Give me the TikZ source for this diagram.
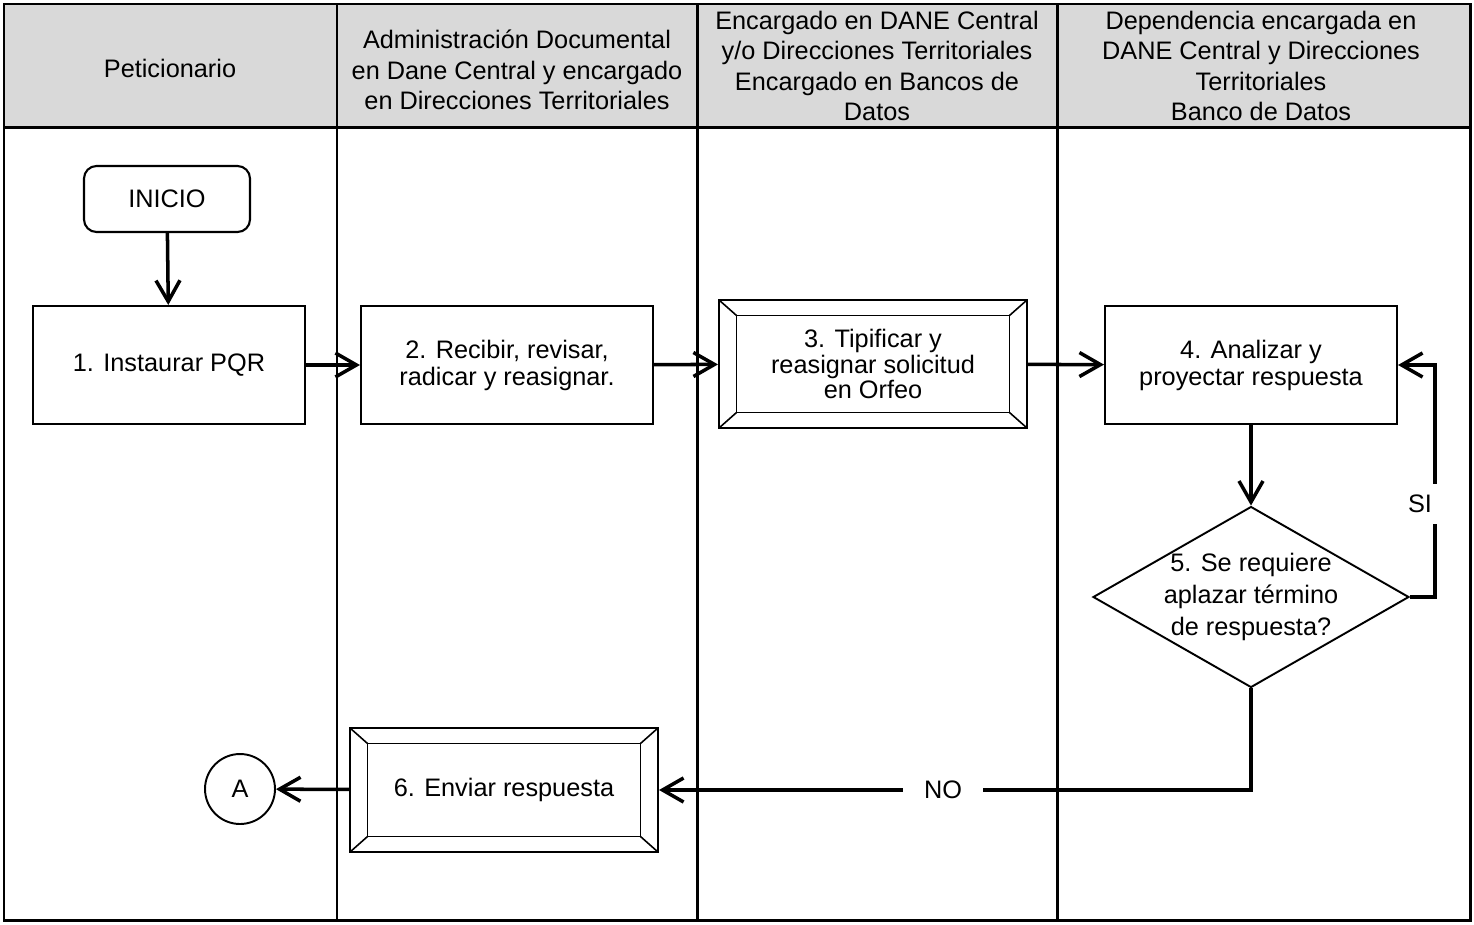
\documentclass[tikz,border=0pt]{standalone}
\usepackage{fontspec}
\setmainfont{Liberation Sans}
\usetikzlibrary{arrows.meta,positioning,shapes.geometric}
\definecolor{headgray}{RGB}{217,217,217}

\begin{document}
\begin{tikzpicture}[
  x=0.02cm,y=-0.02cm,
  lane/.style={line width=1.7pt},
  head/.style={align=center, font=\fontsize{14.4}{17.2}\selectfont},
  box/.style={draw, line width=1.2pt, align=center, minimum width=5.84cm, minimum height=2.36cm, font=\fontsize{14.4}{15.4}\selectfont},
  start/.style={box, rounded corners=0.25cm, minimum width=3.32cm, minimum height=1.32cm},
  bevel/.style={box, minimum width=6.16cm, minimum height=2.48cm,
    path picture={
      \draw[line width=0.9pt] ([shift={(0.35cm,-0.31cm)}]path picture bounding box.north west) rectangle ([shift={(-0.35cm,0.31cm)}]path picture bounding box.south east);
      \foreach \c/\sx/\sy in {north west/1/-1,north east/-1/-1,south west/1/1,south east/-1/1}
        \draw[line width=0.9pt] (path picture bounding box.\c) -- ++(\sx*0.35cm,\sy*0.31cm);
    }},
  decision/.style={draw, diamond, line width=1.1pt, aspect=1.75, inner sep=-20pt, minimum width=6.32cm, minimum height=3.62cm, align=center, font=\fontsize{14.4}{18}\selectfont},
  conn/.style={draw, circle, line width=1.1pt, minimum size=1.4cm, inner sep=0pt, font=\fontsize{14.4}{17}\selectfont},
  lab/.style={fill=white, font=\fontsize{14.4}{17}\selectfont, inner sep=2pt},
  arr/.style={-{Straight Barb[length=4.2mm, width=4.8mm]}, line width=2pt}
]
\useasboundingbox (0,0) rectangle (1474,924);

% lanes
\fill[headgray] (4,4) rectangle (1470,127);
\draw[lane] (4,4) rectangle (1470,920);
\draw[lane] (4,127) -- (1470,127);
\foreach \lx in {337,697,1057}
  \draw[lane] (\lx,4) -- (\lx,920);

\node[head] (h1) at (170,68) {Peticionario};
\node[head] (h2) at (517,70) {Administración Documental\\en Dane Central y encargado\\en Direcciones Territoriales};
\node[head] (h3) at (877,66) {Encargado en DANE Central\\y/o Direcciones Territoriales\\Encargado en Bancos de\\Datos};
\node[head] (h4) at (1261,66) {Dependencia encargada en\\DANE Central y Direcciones\\Territoriales\\Banco de Datos};

% steps
\node[start] (inicio) at (167,199) {INICIO};
\node[box, minimum width=5.44cm] (b1) at (169,365) {1. Instaurar PQR};
\node[box] (b2) at (507,365) {2. Recibir, revisar,\\radicar y reasignar.};
\node[bevel, minimum height=2.56cm, font=\fontsize{14.4}{14.6}\selectfont] (b3) at (873,364) {3. Tipificar y\\reasignar solicitud\\en Orfeo};
\node[box] (b4) at (1251,365) {4. Analizar y\\proyectar respuesta};
\node[decision] (d5) at (1251,597) {5. Se requiere\\aplazar término\\de respuesta?};
\node[bevel] (b6) at (504,790) {6. Enviar respuesta};
\node[conn] (a) at (240,789) {A};
\coordinate (loop) at (1435,365);

\draw[arr] (inicio) -- (b1);
\draw[arr] (b1) -- (b2);
\draw[arr] (b2) -- (b3);
\draw[arr] (b3) -- (b4);
\draw[arr] (b4) -- (d5);
\draw[arr] (d5.east) -| node[lab, pos=0.7, xshift=-0.3cm, minimum width=0.8cm, minimum height=0.8cm] (si) {SI} (loop) -- (b4.east);
\draw[arr] (d5.south) |- node[lab, pos=0.76, minimum width=1.6cm] (no) {NO} (b6.east);
\draw[arr] (b6) -- (a);
\end{tikzpicture}
\end{document}
